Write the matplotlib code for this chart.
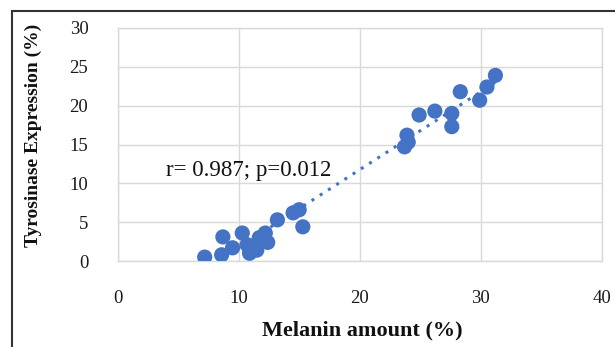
import numpy as np
import matplotlib
matplotlib.use("Agg")
import matplotlib.pyplot as plt
from matplotlib.patches import Rectangle

# Data
melanin = [7.2, 8.7, 8.6, 9.5, 10.3, 10.7, 10.9, 11.5, 11.7, 12.2, 12.4, 13.2, 14.5, 15.0, 15.3,
           23.7, 23.9, 24.0, 24.9, 26.2, 27.6, 27.6, 28.3, 29.9, 30.5, 31.2]
tyrosinase = [0.5, 3.1, 0.8, 1.7, 3.6, 2.1, 1.0, 1.4, 3.0, 3.6, 2.4, 5.3, 6.2, 6.6, 4.4,
              14.7, 16.2, 15.3, 18.8, 19.3, 19.0, 17.3, 21.8, 20.7, 22.4, 23.9]
x_ticks = [0, 10, 20, 30, 40]
y_ticks = [0, 5, 10, 15, 20, 25, 30]
annotation = "r= 0.987; p=0.012"
x_label = "Melanin amount (%)"
y_label = "Tyrosinase Expression (%)"

blue = "#4472C4"
serif = ["Liberation Serif", "DejaVu Serif"]

fig = plt.figure(figsize=(6.15, 3.47), dpi=100)
ax = fig.add_axes([117.5/615, 1 - 261/347, (602-117.5)/615, (261-28)/347])

x = np.array(melanin)
y = np.array(tyrosinase)
coef = np.polyfit(x, y, 1)
xs = np.array([x.min(), x.max()])
ax.plot(xs, np.polyval(coef, xs), linestyle=(0, (1, 2.2)), color=blue, lw=2.2, zorder=2)
ax.scatter(x, y, s=120, color=blue, edgecolors="none", zorder=3)

ax.set_xlim(0, 40)
ax.set_ylim(0, 30)
ax.set_xticks(x_ticks)
ax.set_yticks(y_ticks)
ax.grid(True, color="#d9d9d9", lw=1.0)
ax.set_axisbelow(True)
for s in ax.spines.values():
    s.set_color("#d9d9d9")
    s.set_linewidth(1.0)
ax.tick_params(length=0, pad=21, labelsize=13.5, labelcolor="#1a1a1a")
for lab in ax.get_xticklabels() + ax.get_yticklabels():
    lab.set_family(serif)

ax.text(10.8, 11.6, annotation, fontsize=16.5, family=serif, ha="center", va="center", color="#111111")

fig.text(362/615, 1 - 330/347, x_label, fontsize=16, fontweight="bold", family=serif,
         ha="center", va="center", color="#111111")
fig.text(33/615, 1 - 135/347, y_label, fontsize=14, fontweight="bold", family=serif,
         ha="center", va="center", rotation=90, color="#111111")

fig.patches.append(Rectangle((11.5/615, -0.1), 1.2, 1 - 11.5/347 + 0.1, transform=fig.transFigure,
                             fill=False, edgecolor="#333333", lw=1.5))

fig.savefig("out.png", dpi=100)
